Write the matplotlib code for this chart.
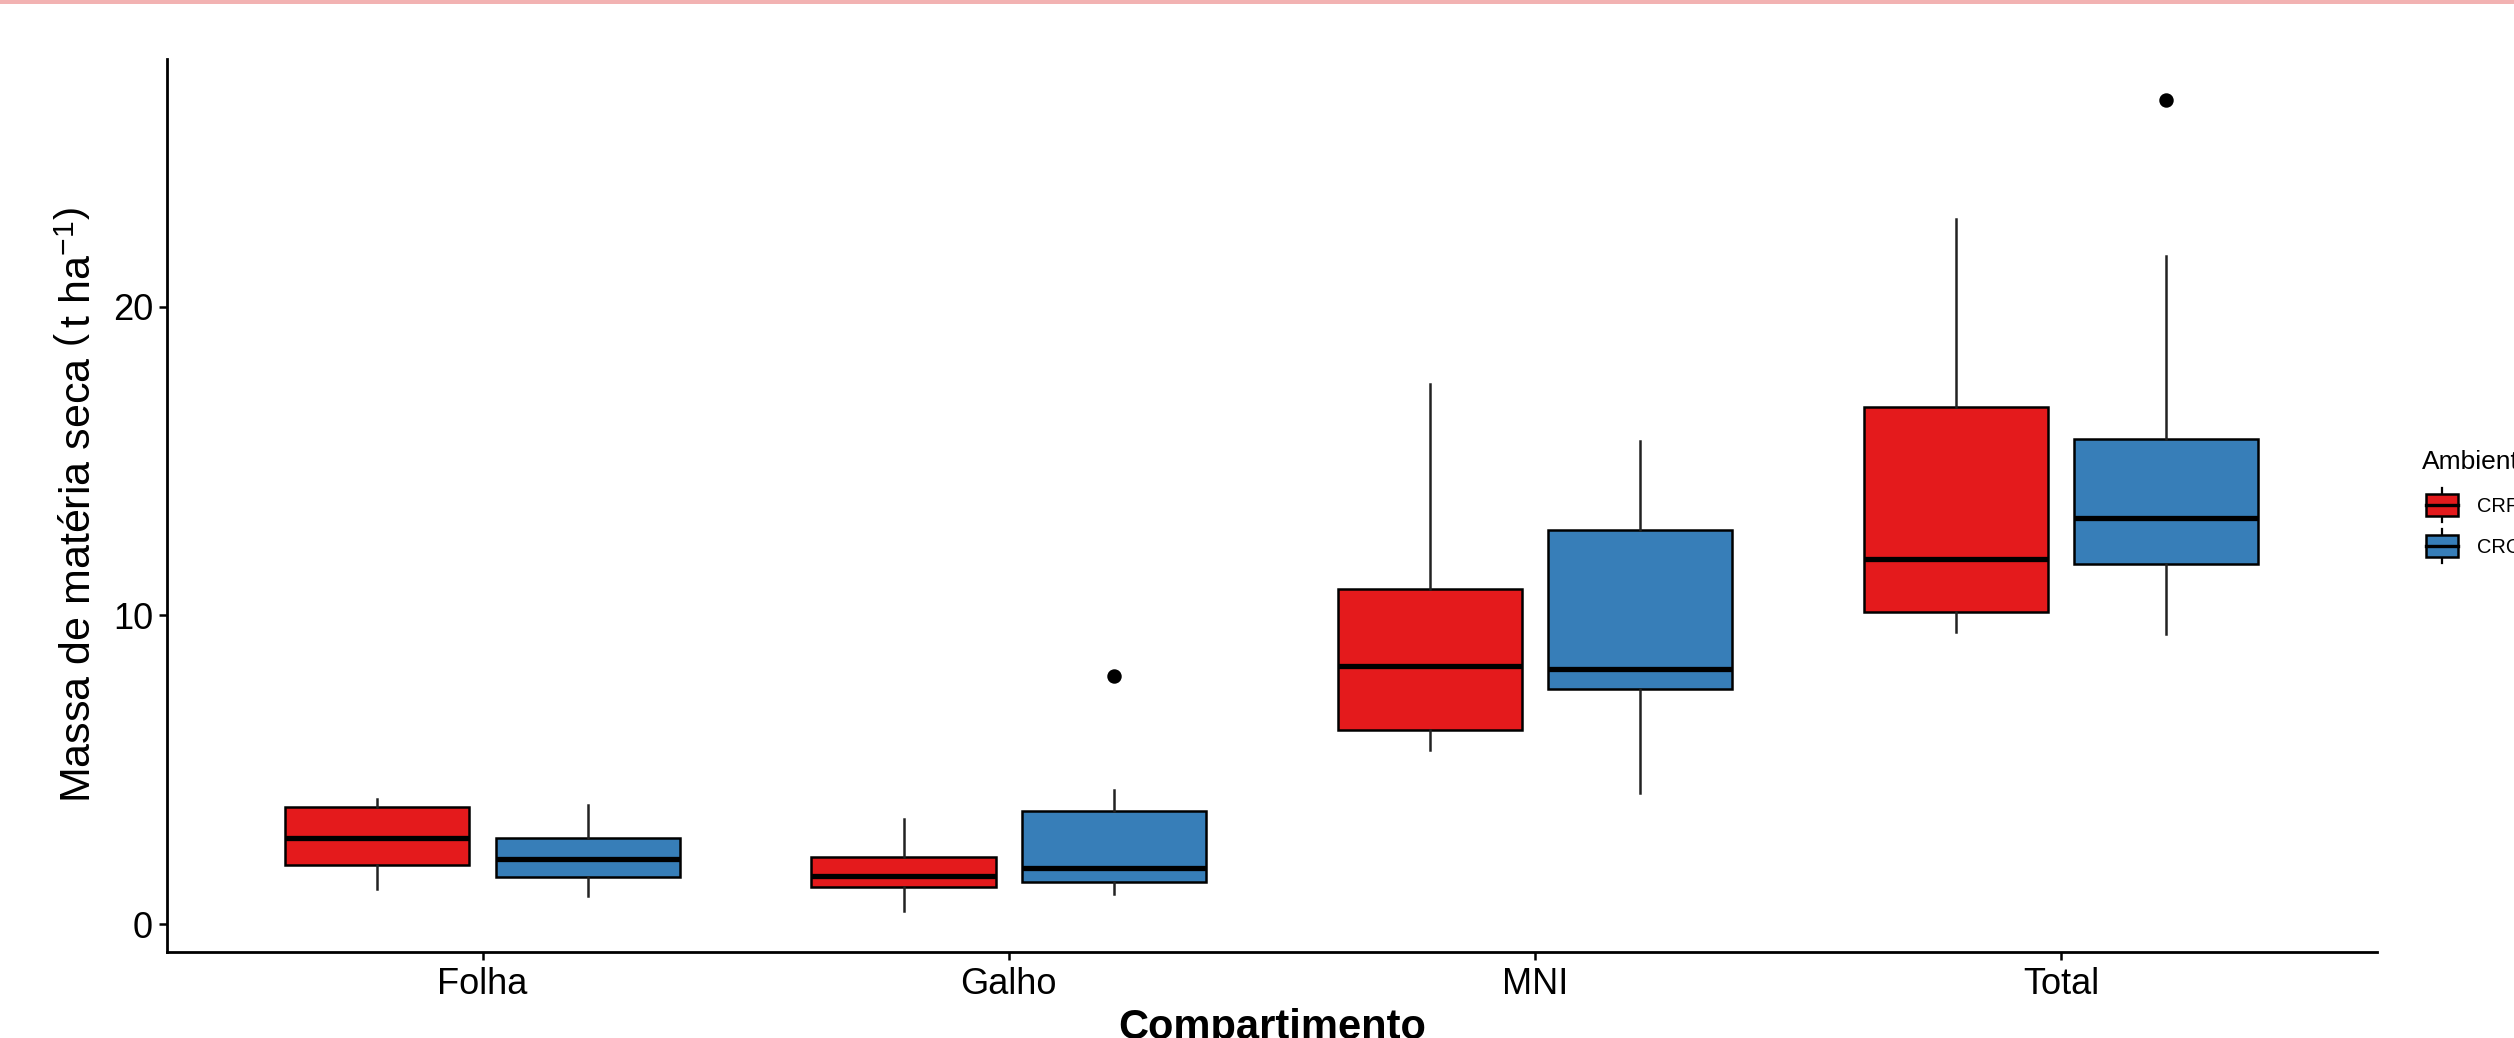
import matplotlib
matplotlib.use("Agg")
import matplotlib.pyplot as plt
from matplotlib.patches import Rectangle, Patch
from matplotlib.lines import Line2D
from matplotlib.legend_handler import HandlerBase

plt.rcParams["font.family"] = ["Liberation Sans", "DejaVu Sans"]
plt.rcParams["mathtext.fontset"] = "custom"
plt.rcParams["mathtext.rm"] = "Liberation Sans"
plt.rcParams["mathtext.it"] = "Liberation Sans:italic"

compartimentos = ["Folha", "Galho", "MNI", "Total"]
ambientes = ["CRF", "CRC"]
cores = ["#E41A1C", "#377EB8"]

# resumo de cinco numeros por compartimento
crf_whislo = [1.16, 0.42, 5.63, 9.45]
crf_q1 = [1.91, 1.22, 6.29, 10.12]
crf_med = [2.78, 1.56, 8.36, 11.83]
crf_q3 = [3.79, 2.19, 10.84, 16.74]
crf_whishi = [4.07, 3.40, 17.48, 22.84]
crf_fliers = [[], [], [], []]

crc_whislo = [0.92, 0.99, 4.26, 9.41]
crc_q1 = [1.52, 1.37, 7.63, 11.67]
crc_med = [2.13, 1.81, 8.28, 13.14]
crc_q3 = [2.79, 3.67, 12.75, 15.72]
crc_whishi = [3.87, 4.35, 15.64, 21.63]
crc_fliers = [[], [8.04], [], [26.7]]

series = [
    (crf_whislo, crf_q1, crf_med, crf_q3, crf_whishi, crf_fliers),
    (crc_whislo, crc_q1, crc_med, crc_q3, crc_whishi, crc_fliers),
]

fig = plt.figure(figsize=(12.57, 5.19), dpi=200)
ax = fig.add_axes([0.0664, 0.0829, 0.879, 0.8603])

# faixa rosa no topo
fig.add_artist(Rectangle((0, 1 - 4 / 1038), 1, 4 / 1038, transform=fig.transFigure,
                         facecolor="#f2b2b2", edgecolor="none"))

offsets = [-0.2, 0.2]
for k, (lo, q1, med, q3, hi, fl) in enumerate(series):
    stats = []
    for i in range(len(compartimentos)):
        stats.append(dict(whislo=lo[i], q1=q1[i], med=med[i], q3=q3[i],
                          whishi=hi[i], fliers=fl[i]))
    pos = [i + 1 + offsets[k] for i in range(len(compartimentos))]
    bp = ax.bxp(stats, positions=pos, widths=0.35, patch_artist=True,
                showcaps=False,
                boxprops=dict(edgecolor="black", linewidth=0.9),
                medianprops=dict(color="black", linewidth=1.9, solid_capstyle="butt"),
                whiskerprops=dict(color="#222222", linewidth=0.9),
                flierprops=dict(marker="o", markerfacecolor="black",
                                markeredgecolor="black", markersize=4.2))
    for b in bp["boxes"]:
        b.set_facecolor(cores[k])

all_lo = min(crf_whislo + crc_whislo)
all_hi = max([v for f in crf_fliers + crc_fliers for v in f] + crf_whishi + crc_whishi)
pad = 0.05 * (all_hi - all_lo)
ax.set_ylim(all_lo - pad, all_hi + pad)
ax.set_xlim(0.4, 4.6)
ax.set_xticks(range(1, len(compartimentos) + 1))
ax.set_xticklabels(compartimentos)
ax.set_yticks([0, 10, 20])

for s in ["top", "right"]:
    ax.spines[s].set_visible(False)
for s in ["left", "bottom"]:
    ax.spines[s].set_linewidth(1.0)
ax.tick_params(axis="both", direction="out", length=2.8, width=0.9, labelsize=13,
               colors="black")
ax.tick_params(axis="x", pad=2.5)
ax.tick_params(axis="y", pad=2.2)

ax.set_xlabel("Compartimento", fontsize=15, fontweight="bold", labelpad=2.2)
ax.set_ylabel(r"Massa de matéria seca $\left(\,\mathrm{t\ ha^{-1}}\right)$",
              fontsize=15.5, labelpad=4.5)


class BoxHandler(HandlerBase):
    def create_artists(self, legend, orig_handle, xdescent, ydescent,
                       width, height, fontsize, trans):
        x0, y0 = -xdescent, -ydescent
        inset = width * 0.1
        bh = height * 0.65
        by = y0 + (height - bh) / 2
        xm = x0 + width / 2
        wl = Line2D([xm, xm], [y0, y0 + height], color="black", lw=0.8, transform=trans)
        r = Rectangle((x0 + inset, by), width - 2 * inset, bh,
                      facecolor=orig_handle.get_facecolor(),
                      edgecolor="black", lw=0.9, transform=trans)
        m = Line2D([x0 + inset, x0 + width - inset], [y0 + height / 2] * 2,
                   color="black", lw=1.2, transform=trans)
        return [wl, r, m]


handles = [Patch(facecolor=c, edgecolor="black") for c in cores]
leg = fig.legend(handles, ambientes, title="Ambiente", loc="upper left",
                 bbox_to_anchor=(0.9634, 0.566), frameon=False, fontsize=7.2,
                 title_fontsize=9.5, handlelength=2.0, handleheight=2.24,
                 labelspacing=0.35, handletextpad=0.75, borderpad=0,
                 borderaxespad=0, handler_map={Patch: BoxHandler()})
leg._legend_box.align = "left"
leg._legend_box.sep = 5.0

fig.savefig("out.png", dpi=200)
